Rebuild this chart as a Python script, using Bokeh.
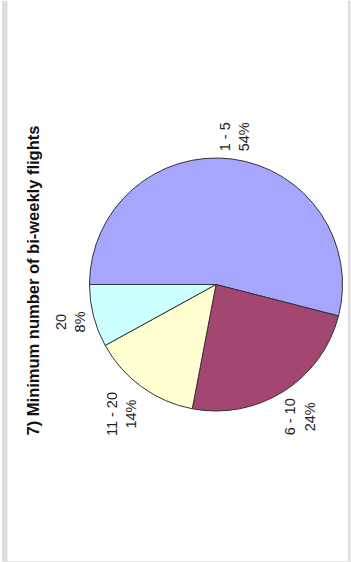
import math
from bokeh.plotting import figure
from bokeh.models import Range1d
from bokeh.core.properties import value
from bokeh.embed import file_html
from bokeh.resources import INLINE

# ---- data ----
categories = ["1 - 5", "6 - 10", "11 - 20", "20"]
percents = [54, 24, 14, 8]
colors = ["#a6a6ff", "#a34672", "#ffffd2", "#ccffff"]
title_text = "7) Minimum number of bi-weekly flights"

W, H = 351, 562
p = figure(width=W, height=H, output_backend="svg", toolbar_location=None,
           x_range=Range1d(0, W), y_range=Range1d(0, H), min_border=0,
           outline_line_color=None)
p.axis.visible = False
p.grid.visible = False
p.background_fill_color = "white"
p.border_fill_color = "white"

# frame decorations (page border)
p.quad(left=[1.5], right=[7], bottom=[0], top=[H], fill_color="#dddddd", line_color=None)
p.quad(left=[347.5], right=[350], bottom=[0], top=[H], fill_color="#dddddd", line_color=None)
p.quad(left=[1.5], right=[350], bottom=[0], top=[1.5], fill_color="#e2e2e2", line_color=None)

# pie geometry (pixel units, y up)
cx, cy, R = 215.5, H - 284, 126.5
total = float(sum(percents))
starts, ends, mids = [], [], []
cum = 0.0
for v in percents:
    a0 = math.pi - 2 * math.pi * cum / total
    cum += v
    a1 = math.pi - 2 * math.pi * cum / total
    starts.append(a0)
    ends.append(a1)
    mids.append((a0 + a1) / 2)

p.wedge(x=[cx] * len(percents), y=[cy] * len(percents), radius=R,
        start_angle=starts, end_angle=ends, direction="clock",
        fill_color=colors, line_color="#333333", line_width=1)

# labels
FS = 14.5
LH = 1.2
cw = {" ": 0.278, "-": 0.333, "%": 0.889}
def text_len(s):
    return sum(cw.get(c, 0.556) for c in s) * FS

labels = [f"{c}\n{v}%" for c, v in zip(categories, percents)]
lx, ly = [], []
gap = 6
for lab, m in zip(labels, mids):
    lines = lab.split("\n")
    h = max(text_len(s) for s in lines)          # vertical extent (rotated text)
    w = FS * (1 + LH * (len(lines) - 1))        # horizontal extent
    half = abs(math.cos(m)) * w / 2 + abs(math.sin(m)) * h / 2
    d = R + gap + half
    lx.append(cx + d * math.cos(m))
    ly.append(cy + d * math.sin(m))

p.text(x=lx, y=ly, text=labels, angle=math.pi / 2,
       text_align="center", text_baseline="middle",
       text_font=value("Liberation Sans"), text_font_size=f"{FS}px",
       text_color="#222222", text_line_height=LH)

# title (rotated)
p.text(x=[32.5], y=[H - 280], text=[title_text], angle=math.pi / 2,
       text_align="center", text_baseline="middle",
       text_font=value("Liberation Sans"), text_font_size="16.5px",
       text_font_style="bold", text_color="#111111")

open("out.html", "w").write(file_html(p, INLINE))
